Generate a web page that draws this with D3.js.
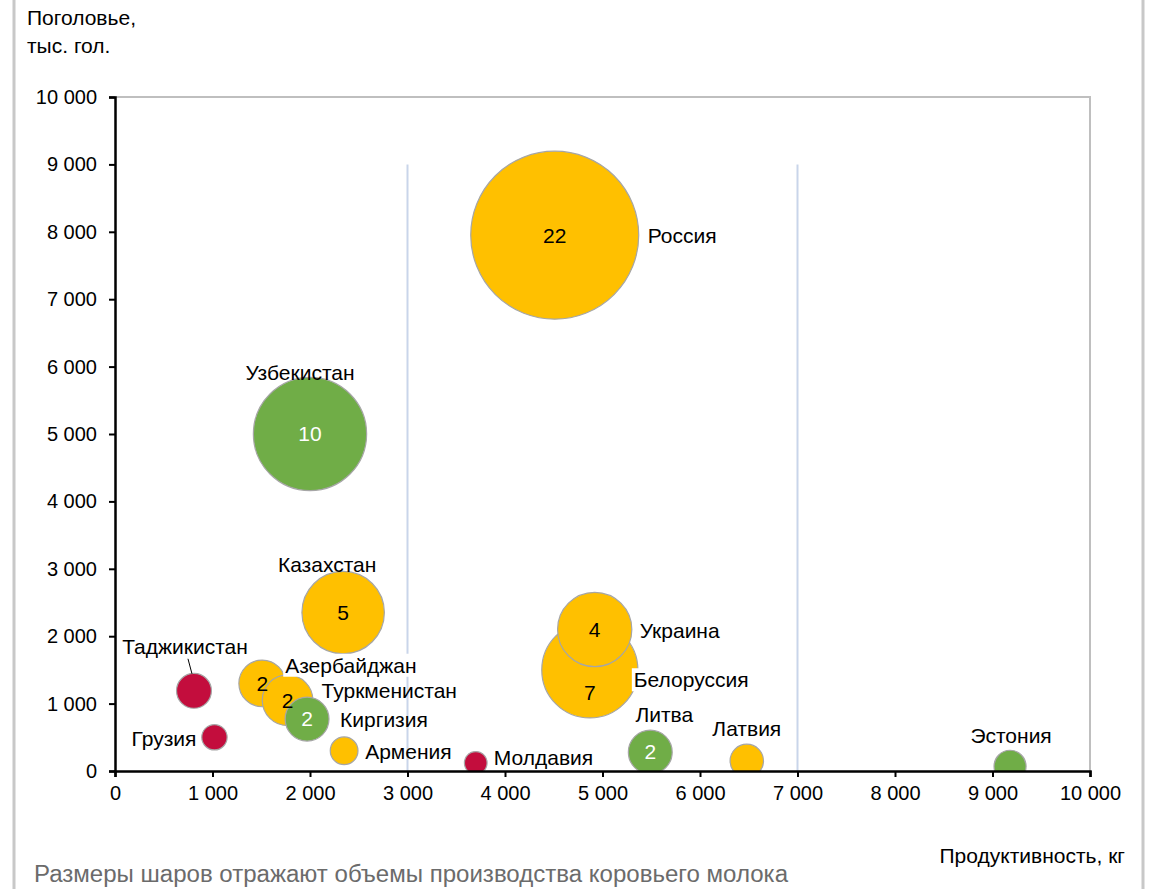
<!DOCTYPE html>
<html>
<head>
<meta charset="utf-8">
<script src="https://cdn.jsdelivr.net/npm/d3@7"></script>
<style>
  body { margin: 0; background: #fff; }
  text { font-family: "Liberation Sans", Arial, sans-serif; }
</style>
</head>
<body>
<div class="chart"></div>
<script>
// data
const countries = ['Россия', 'Белоруссия', 'Украина', 'Казахстан', 'Узбекистан', 'Азербайджан',
  'Туркменистан', 'Киргизия', 'Таджикистан', 'Грузия', 'Армения', 'Молдавия', 'Литва', 'Латвия', 'Эстония']
const productivity = [4510, 4870, 4920, 2340, 2000, 1510, 1770, 1970, 810, 1020, 2350, 3700, 5490, 6480, 9180]
const herd = [7950, 1500, 2100, 2350, 5000, 1300, 1050, 770, 1190, 500, 300, 120, 280, 150, 70]
const milk = [22, 7.2, 4.3, 5.3, 10, 1.7, 2.0, 1.5, 0.95, 0.5, 0.6, 0.4, 1.5, 0.87, 0.8]
const group = ['y', 'y', 'y', 'y', 'g', 'y', 'y', 'g', 'r', 'r', 'y', 'r', 'g', 'y', 'g']
const xTicks = [0, 1000, 2000, 3000, 4000, 5000, 6000, 7000, 8000, 9000, 10000]
const yTicks = [0, 1000, 2000, 3000, 4000, 5000, 6000, 7000, 8000, 9000, 10000]
const refLines = [3000, 7000]

// label placement (pixel offsets from bubble centre)
const labelPos = {
  'Россия': [93, 0, 'start'], 'Белоруссия': [44, 10, 'start'], 'Украина': [45, 1, 'start'],
  'Казахстан': [-16, -48, 'middle'], 'Узбекистан': [-10, -61, 'middle'], 'Азербайджан': [23, -18, 'start'],
  'Туркменистан': [34, -10, 'start'], 'Киргизия': [33, 1, 'start'], 'Таджикистан': [-9, -44, 'middle'],
  'Грузия': [-18, 1, 'end'], 'Армения': [21, 1, 'start'], 'Молдавия': [18, -5, 'start'],
  'Литва': [14, -37, 'middle'], 'Латвия': [0, -32, 'middle'], 'Эстония': [1, -31, 'middle']
}
const whiteBg = ['Белоруссия', 'Азербайджан']
const numDy = {'Белоруссия': 23}

const colors = {y: '#FFC000', g: '#70AD47', r: '#C30D3D'}
const FS = 21

const W = 1150, H = 889
const svg = d3.select('.chart').append('svg')
  .attr('width', W).attr('height', H)

// outer frame
svg.append('line').attr('x1', 14).attr('x2', 14).attr('y1', 0).attr('y2', H)
  .attr('stroke', '#c8c8c8').attr('stroke-width', 3)
svg.append('line').attr('x1', 1143).attr('x2', 1143).attr('y1', 0).attr('y2', H)
  .attr('stroke', '#c8c8c8').attr('stroke-width', 3)

const x = d3.scaleLinear().domain([0, 10000]).range([115, 1090])
const y = d3.scaleLinear().domain([0, 10000]).range([771, 97])
const r = d3.scaleSqrt().domain([0, 22]).range([0, 84])
const fmt = d => d3.format(',')(d).replace(/,/g, ' ')

// plot border (top/right)
svg.append('path')
  .attr('d', `M${x(0)},${y(10000)}H${x(10000)}V${y(0)}`)
  .attr('fill', 'none').attr('stroke', '#bfbfbf').attr('stroke-width', 2)

svg.selectAll('.ref')
  .data(refLines)
  .enter()
  .append('line')
  .attr('x1', d => x(d)).attr('x2', d => x(d))
  .attr('y1', y(9000)).attr('y2', y(0))
  .attr('stroke', '#c9d5ea').attr('stroke-width', 2)

svg.append('clipPath').attr('id', 'plot')
  .append('rect')
  .attr('x', x(0)).attr('y', y(10000))
  .attr('width', x(10000) - x(0)).attr('height', y(0) - y(10000))

const data = countries.map((c, i) => ({
  name: c, px: productivity[i], hd: herd[i], milk: milk[i], grp: group[i]
}))

const gB = svg.append('g').attr('clip-path', 'url(#plot)')
gB.selectAll('circle')
  .data(data)
  .enter()
  .append('circle')
  .attr('cx', d => x(d.px))
  .attr('cy', d => y(d.hd))
  .attr('r', d => r(d.milk))
  .attr('fill', d => colors[d.grp])
  .attr('stroke', '#a6a6a6')
  .attr('stroke-width', 1.2)

// axes
const xAxis = d3.axisBottom(x).tickValues(xTicks).tickFormat(fmt).tickSize(6)
svg.append('g')
  .attr('transform', `translate(0, ${y(0)})`)
  .call(xAxis)
  .call(g => g.select('.domain').attr('stroke', '#000').attr('stroke-width', 2.5))
  .call(g => g.selectAll('.tick line').attr('stroke-width', 2))
  .call(g => g.selectAll('.tick text').attr('font-size', 20).attr('dy', '1.0em').attr('fill', '#000')
    .style('font-family', '"Liberation Sans", Arial, sans-serif'))

const yAxis = d3.axisLeft(y).tickValues(yTicks).tickFormat(fmt).tickSize(6)
svg.append('g')
  .attr('transform', `translate(${x(0)}, 0)`)
  .call(yAxis)
  .call(g => g.select('.domain').attr('stroke', '#000').attr('stroke-width', 2.5))
  .call(g => g.selectAll('.tick line').attr('stroke-width', 2))
  .call(g => g.selectAll('.tick text').attr('font-size', 20).attr('x', -18).attr('fill', '#000')
    .style('font-family', '"Liberation Sans", Arial, sans-serif'))

// leader line for Tajikistan
const tj = data.find(d => d.name === 'Таджикистан')
svg.append('line')
  .attr('x1', x(tj.px) - 6).attr('y1', y(tj.hd) - 32)
  .attr('x2', x(tj.px) - 2).attr('y2', y(tj.hd) - 17)
  .attr('stroke', '#000').attr('stroke-width', 1)

// country labels
const labels = svg.selectAll('.lab')
  .data(data)
  .enter()
  .append('g')
  .attr('transform', d => `translate(${x(d.px) + labelPos[d.name][0]}, ${y(d.hd) + labelPos[d.name][1]})`)

labels.append('text')
  .attr('text-anchor', d => labelPos[d.name][2])
  .attr('dy', '0.35em')
  .attr('font-size', FS)
  .text(d => d.name)
  .each(function(d) {
    if (whiteBg.includes(d.name)) {
      const b = this.getBBox()
      d3.select(this.parentNode).insert('rect', 'text')
        .attr('x', b.x - 2).attr('y', b.y).attr('width', b.width + 4).attr('height', b.height)
        .attr('fill', '#fff')
    }
  })

// bubble values
svg.selectAll('.num')
  .data(data.filter(d => d.milk >= 1.5))
  .enter()
  .append('text')
  .attr('x', d => x(d.px))
  .attr('y', d => y(d.hd) + (numDy[d.name] || 0))
  .attr('dy', '0.35em')
  .attr('text-anchor', 'middle')
  .attr('font-size', FS)
  .attr('fill', d => d.grp === 'g' ? '#fff' : '#000')
  .text(d => Math.round(d.milk))

// axis titles
svg.append('text').attr('x', 27).attr('y', 25).attr('font-size', FS).text('Поголовье,')
svg.append('text').attr('x', 27).attr('y', 53).attr('font-size', FS).text('тыс. гол.')
svg.append('text').attr('x', 1125).attr('y', 863).attr('font-size', FS)
  .attr('text-anchor', 'end').text('Продуктивность, кг')

svg.append('text').attr('x', 34).attr('y', 882).attr('font-size', 23)
  .attr('fill', '#6b6b6b')
  .attr('textLength', 754).attr('lengthAdjust', 'spacingAndGlyphs')
  .text('Размеры шаров отражают объемы производства коровьего молока')
</script>
</body>
</html>
